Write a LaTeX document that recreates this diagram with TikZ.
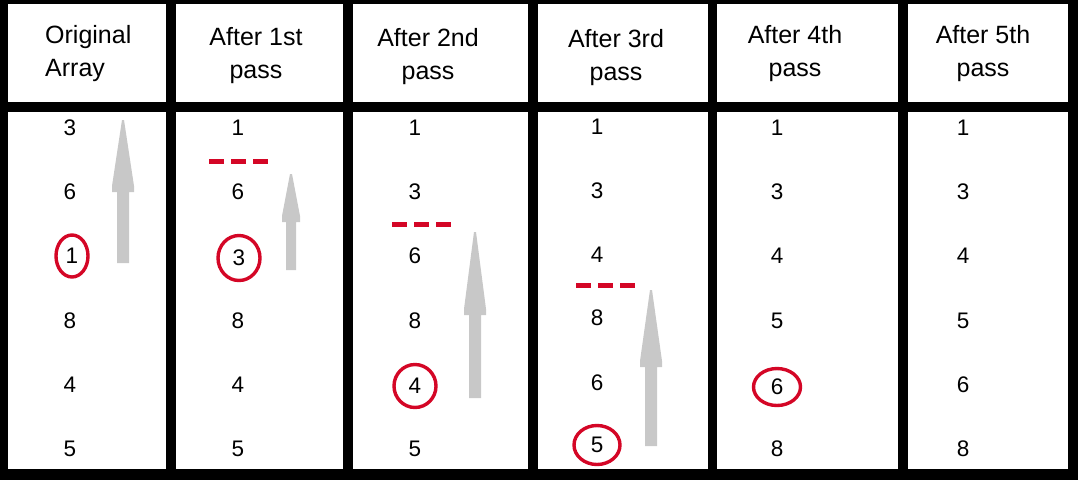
\documentclass[tikz,border=0pt]{standalone}
\usepackage{fontspec}
\setmainfont{Liberation Sans}
\usetikzlibrary{shapes.geometric}
\definecolor{markred}{RGB}{212,6,38}
\definecolor{arrowgray}{RGB}{200,200,200}
% gray up arrow: centre x, tip y, head base y, bottom y, half head, half shaft
\newcommand\passarrow[6]{%
  \fill[arrowgray] ({#1-1},#2) -- ({#1+1},#2) -- ({#1+#5},{#3-6}) -- ({#1+#5},#3)
    -- ({#1+#6},#3) -- ({#1+#6},#4) -- ({#1-#6},#4) -- ({#1-#6},#3)
    -- ({#1-#5},#3) -- ({#1-#5},{#3-6}) -- cycle;}
\begin{document}
\begin{tikzpicture}[x=1pt,y=-1pt,
    head/.style={font=\fontsize{25}{33}\selectfont,align=center,inner sep=0pt},
    num/.style={font=\fontsize{22.5}{26}\selectfont,inner sep=0pt},
    picked/.style={num,ellipse,draw=markred,line width=3.4pt},
    bound/.style={markred,line width=5pt,dash pattern=on 15pt off 7pt}]
  \useasboundingbox (0,0) rectangle (1078,480);
  \fill[black] (0,0) rectangle (1078,480);
  % header cells
  \fill[white] (8,4) rectangle (166,102);
  \fill[white] (176,4) rectangle (343,102);
  \fill[white] (353,4) rectangle (528,102);
  \fill[white] (538,4) rectangle (708,102);
  \fill[white] (717,4) rectangle (898,102);
  \fill[white] (908,4) rectangle (1068,102);
  % body cells
  \fill[white] (8,112) rectangle (166,469);
  \fill[white] (176,112) rectangle (343,469);
  \fill[white] (353,112) rectangle (528,469);
  \fill[white] (538,112) rectangle (708,469);
  \fill[white] (717,112) rectangle (898,469);
  \fill[white] (908,112) rectangle (1068,469);
  % titles
  \node[head,align=left,anchor=west] (h0) at (45,54) {Original\\Array};
  \node[head] (h1) at (256,56) {After 1st\\pass};
  \node[head] (h2) at (428,57) {After 2nd\\pass};
  \node[head] (h3) at (616,58) {After 3rd\\pass};
  \node[head] (h4) at (795,54) {After 4th\\pass};
  \node[head] (h5) at (983,54) {After 5th\\pass};
  % original array
  \node[num] (a1) at (70,128) {3};
  \node[num] (a2) at (70,192) {6};
  \node[picked,minimum width=32pt,minimum height=42pt] (a3) at (72,256) {1};
  \node[num] (a4) at (70,321) {8};
  \node[num] (a5) at (70,385) {4};
  \node[num] (a6) at (70,449) {5};
  \passarrow{123}{120}{192}{263}{11}{6}
  % after 1st pass
  \node[num] (b1) at (238,128) {1};
  \node[num] (b2) at (238,192) {6};
  \node[picked,minimum width=42pt,minimum height=45pt] (b3) at (239,258) {3};
  \node[num] (b4) at (238,321) {8};
  \node[num] (b5) at (238,385) {4};
  \node[num] (b6) at (238,449) {5};
  \draw[bound] (209,161) -- (268,161);
  \passarrow{291}{174}{222}{270}{9}{5}
  % after 2nd pass
  \node[num] (c1) at (415,128) {1};
  \node[num] (c2) at (415,192) {3};
  \node[num] (c3) at (415,256) {6};
  \node[num] (c4) at (415,321) {8};
  \node[picked,minimum width=42pt,minimum height=43pt] (c5) at (415,386) {4};
  \node[num] (c6) at (415,449) {5};
  \draw[bound] (392,224) -- (451,224);
  \passarrow{475}{232}{315}{398}{11}{6}
  % after 3rd pass
  \node[num] (d1) at (597,127) {1};
  \node[num] (d2) at (597,191) {3};
  \node[num] (d3) at (597,255) {4};
  \node[num] (d4) at (597,318) {8};
  \node[num] (d5) at (597,383) {6};
  \node[picked,minimum width=46pt,minimum height=39pt] (d6) at (597,445) {5};
  \draw[bound] (576,285) -- (635,285);
  \passarrow{651}{290}{367}{446}{11}{6}
  % after 4th pass
  \node[num] (e1) at (777,128) {1};
  \node[num] (e2) at (777,192) {3};
  \node[num] (e3) at (777,256) {4};
  \node[num] (e4) at (777,321) {5};
  \node[picked,minimum width=47pt,minimum height=37pt] (e5) at (777,387) {6};
  \node[num] (e6) at (777,449) {8};
  % after 5th pass
  \node[num] (f1) at (963,128) {1};
  \node[num] (f2) at (963,192) {3};
  \node[num] (f3) at (963,256) {4};
  \node[num] (f4) at (963,321) {5};
  \node[num] (f5) at (963,385) {6};
  \node[num] (f6) at (963,449) {8};
\end{tikzpicture}
\end{document}
